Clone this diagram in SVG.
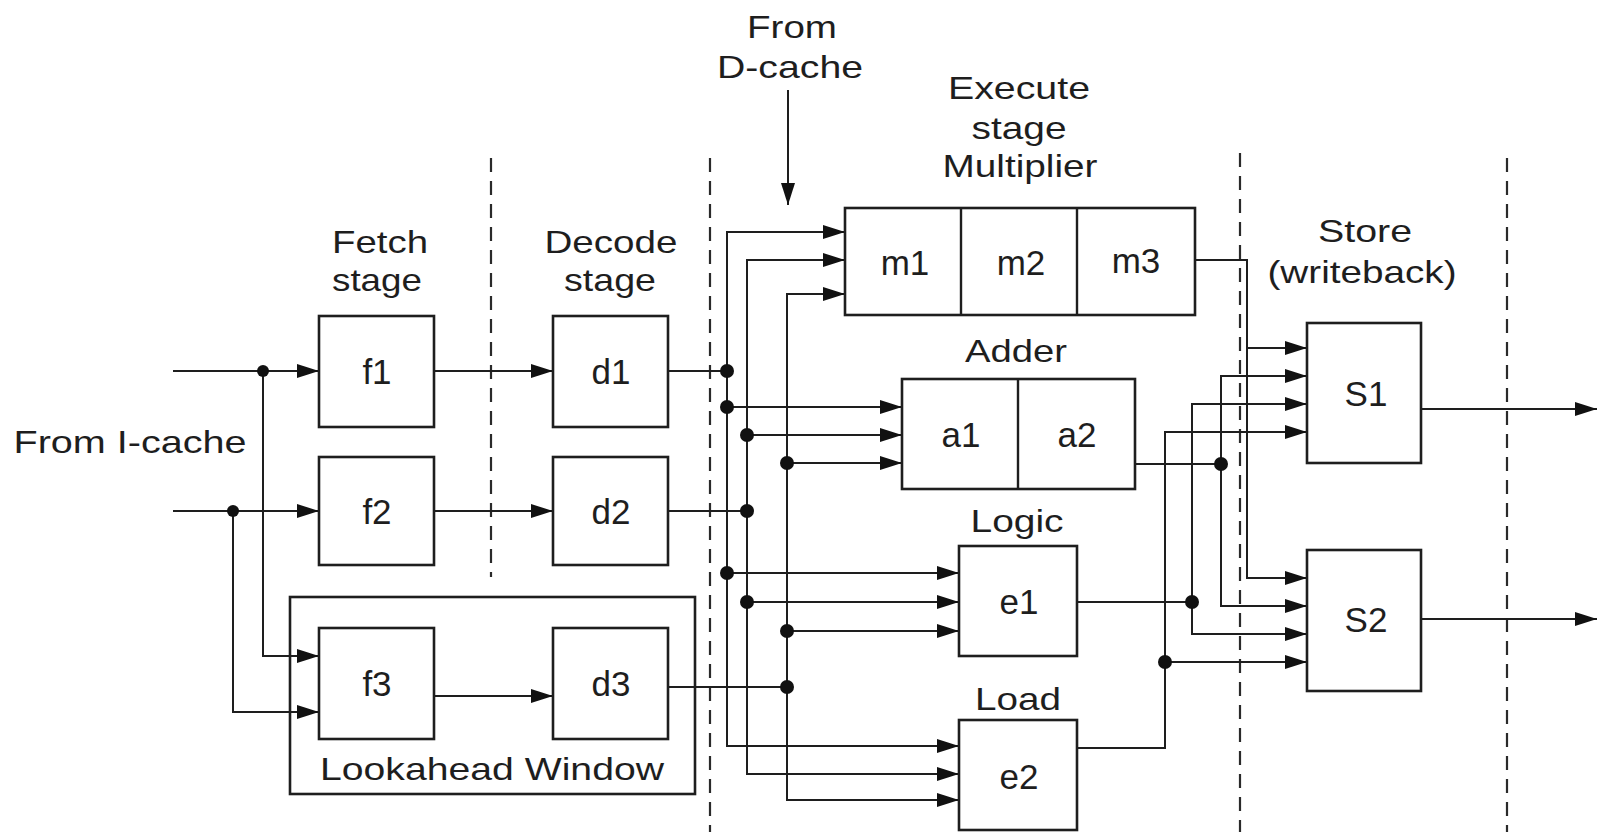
<svg xmlns="http://www.w3.org/2000/svg" width="1600" height="837" viewBox="0 0 1600 837">
<defs>
<style>
.box{fill:#fff;stroke:#1e1e1e;stroke-width:2.6}
.ln{fill:none;stroke:#1e1e1e;stroke-width:2}
.arr{fill:none;stroke:#1e1e1e;stroke-width:2;marker-end:url(#ah)}
.dash{fill:none;stroke:#2a2a2a;stroke-width:2.2;stroke-dasharray:14 9}
.dot{fill:#111}
text{font-family:"Liberation Sans",Arial,sans-serif;font-size:32px;fill:#1e1e1e;text-anchor:middle}
.bl{font-size:35px}
</style>
<marker id="ah" markerUnits="userSpaceOnUse" markerWidth="24" markerHeight="16" refX="22" refY="7" orient="auto">
<path d="M0,0 L22,7 L0,14 z" fill="#111"/>
</marker>
</defs>
<rect width="1600" height="837" fill="#fff"/>

<g id="stage-dividers">
<line class="dash" x1="491" y1="158" x2="491" y2="577"/>
<line class="dash" x1="710" y1="158" x2="710" y2="832"/>
<line class="dash" x1="1240" y1="153" x2="1240" y2="832"/>
<line class="dash" x1="1507" y1="158" x2="1507" y2="832"/>
</g>

<g id="labels">
<text x="130" y="453" textLength="233" lengthAdjust="spacingAndGlyphs">From I-cache</text>
<text x="792" y="38" textLength="90" lengthAdjust="spacingAndGlyphs">From</text>
<text x="790" y="78" textLength="146" lengthAdjust="spacingAndGlyphs">D-cache</text>
<text x="1019" y="99" textLength="142" lengthAdjust="spacingAndGlyphs">Execute</text>
<text x="1019" y="139" textLength="95" lengthAdjust="spacingAndGlyphs">stage</text>
<text x="1020" y="177" textLength="155" lengthAdjust="spacingAndGlyphs">Multiplier</text>
<text x="380" y="253" textLength="96" lengthAdjust="spacingAndGlyphs">Fetch</text>
<text x="377" y="291" textLength="90" lengthAdjust="spacingAndGlyphs">stage</text>
<text x="611" y="253" textLength="133" lengthAdjust="spacingAndGlyphs">Decode</text>
<text x="610" y="291" textLength="92" lengthAdjust="spacingAndGlyphs">stage</text>
<text x="1365" y="242" textLength="94" lengthAdjust="spacingAndGlyphs">Store</text>
<text x="1362" y="283" textLength="189" lengthAdjust="spacingAndGlyphs">(writeback)</text>
<text x="1016" y="362" textLength="102" lengthAdjust="spacingAndGlyphs">Adder</text>
<text x="1017" y="532" textLength="93" lengthAdjust="spacingAndGlyphs">Logic</text>
<text x="1018" y="710" textLength="86" lengthAdjust="spacingAndGlyphs">Load</text>
</g>

<g id="lookahead-window">
<rect class="box" x="290" y="597" width="405" height="197" fill="none"/>
<text x="492" y="780" textLength="344" lengthAdjust="spacingAndGlyphs">Lookahead Window</text>
</g>

<g id="connectors">
<line class="arr" x1="788" y1="90" x2="788" y2="205"/>
<line class="arr" x1="173" y1="371" x2="319" y2="371"/>
<line class="arr" x1="173" y1="511" x2="319" y2="511"/>
<polyline class="arr" points="263,371 263,656 319,656"/>
<polyline class="arr" points="233,511 233,712 319,712"/>
<line class="arr" x1="434" y1="371" x2="553" y2="371"/>
<line class="arr" x1="434" y1="511" x2="553" y2="511"/>
<line class="arr" x1="434" y1="696" x2="553" y2="696"/>
<line class="ln" x1="668" y1="371" x2="727" y2="371"/>
<line class="ln" x1="668" y1="511" x2="747" y2="511"/>
<line class="ln" x1="668" y1="687" x2="787" y2="687"/>
<polyline class="arr" points="727,573 727,232 845,232"/>
<polyline class="arr" points="727,573 727,746 959,746"/>
<line class="arr" x1="727" y1="407" x2="902" y2="407"/>
<line class="arr" x1="727" y1="573" x2="959" y2="573"/>
<polyline class="arr" points="747,602 747,260 845,260"/>
<polyline class="arr" points="747,602 747,774 959,774"/>
<line class="arr" x1="747" y1="435" x2="902" y2="435"/>
<line class="arr" x1="747" y1="602" x2="959" y2="602"/>
<polyline class="arr" points="787,631 787,294 845,294"/>
<polyline class="arr" points="787,631 787,800 959,800"/>
<line class="arr" x1="787" y1="463" x2="902" y2="463"/>
<line class="arr" x1="787" y1="631" x2="959" y2="631"/>
<polyline class="arr" points="1195,260 1247,260 1247,578 1307,578"/>
<line class="arr" x1="1247" y1="348" x2="1307" y2="348"/>
<line class="ln" x1="1135" y1="464" x2="1221" y2="464"/>
<polyline class="arr" points="1221,464 1221,376 1307,376"/>
<polyline class="arr" points="1221,464 1221,606 1307,606"/>
<line class="ln" x1="1077" y1="602" x2="1192" y2="602"/>
<polyline class="arr" points="1192,602 1192,404 1307,404"/>
<polyline class="arr" points="1192,602 1192,634 1307,634"/>
<polyline class="arr" points="1077,748 1165,748 1165,432 1307,432"/>
<line class="arr" x1="1165" y1="662" x2="1307" y2="662"/>
<line class="arr" x1="1421" y1="409" x2="1597" y2="409"/>
<line class="arr" x1="1421" y1="619" x2="1597" y2="619"/>
<circle class="dot" cx="263" cy="371" r="6"/>
<circle class="dot" cx="233" cy="511" r="6"/>
<circle class="dot" cx="727" cy="371" r="7"/>
<circle class="dot" cx="727" cy="407" r="7"/>
<circle class="dot" cx="727" cy="573" r="7"/>
<circle class="dot" cx="747" cy="435" r="7"/>
<circle class="dot" cx="747" cy="511" r="7"/>
<circle class="dot" cx="747" cy="602" r="7"/>
<circle class="dot" cx="787" cy="463" r="7"/>
<circle class="dot" cx="787" cy="631" r="7"/>
<circle class="dot" cx="787" cy="687" r="7"/>
<circle class="dot" cx="1221" cy="464" r="7"/>
<circle class="dot" cx="1192" cy="602" r="7"/>
<circle class="dot" cx="1165" cy="662" r="7"/>
</g>

<g id="f1"><rect class="box" x="319" y="316" width="115" height="111"/><text class="bl" x="377" y="384">f1</text></g>
<g id="f2"><rect class="box" x="319" y="457" width="115" height="108"/><text class="bl" x="377" y="524">f2</text></g>
<g id="f3"><rect class="box" x="319" y="628" width="115" height="111"/><text class="bl" x="377" y="696">f3</text></g>
<g id="d1"><rect class="box" x="553" y="316" width="115" height="111"/><text class="bl" x="611" y="384">d1</text></g>
<g id="d2"><rect class="box" x="553" y="457" width="115" height="108"/><text class="bl" x="611" y="524">d2</text></g>
<g id="d3"><rect class="box" x="553" y="628" width="115" height="111"/><text class="bl" x="611" y="696">d3</text></g>
<g id="multiplier">
<rect class="box" x="845" y="208" width="350" height="107"/>
<line class="ln" x1="961" y1="208" x2="961" y2="315" style="stroke-width:2.4"/>
<line class="ln" x1="1077" y1="208" x2="1077" y2="315" style="stroke-width:2.4"/>
<text class="bl" x="905" y="275">m1</text><text class="bl" x="1021" y="275">m2</text><text class="bl" x="1136" y="273">m3</text>
</g>
<g id="adder">
<rect class="box" x="902" y="379" width="233" height="110"/>
<line class="ln" x1="1018" y1="379" x2="1018" y2="489" style="stroke-width:2.4"/>
<text class="bl" x="961" y="447">a1</text><text class="bl" x="1077" y="447">a2</text>
</g>
<g id="e1"><rect class="box" x="959" y="546" width="118" height="110"/><text class="bl" x="1019" y="614">e1</text></g>
<g id="e2"><rect class="box" x="959" y="720" width="118" height="110"/><text class="bl" x="1019" y="789">e2</text></g>
<g id="S1"><rect class="box" x="1307" y="323" width="114" height="140"/><text class="bl" x="1366" y="406">S1</text></g>
<g id="S2"><rect class="box" x="1307" y="550" width="114" height="141"/><text class="bl" x="1366" y="632">S2</text></g>
</svg>
